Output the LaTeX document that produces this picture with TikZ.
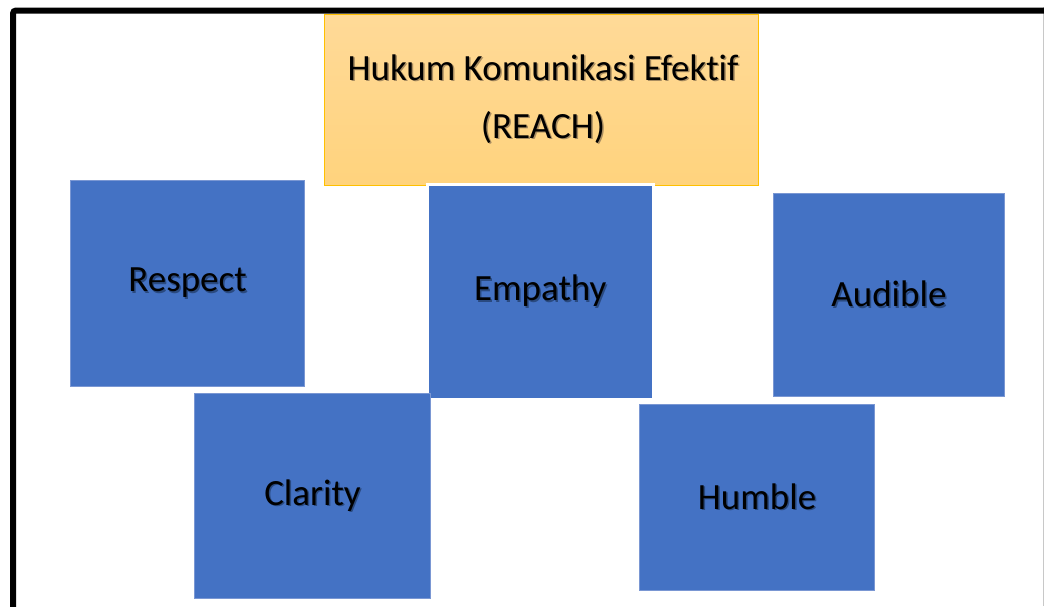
\documentclass[tikz,border=0pt]{standalone}
\usepackage{fontspec}
\setmainfont{Carlito}[Ligatures=NoCommon]
\usetikzlibrary{positioning}

\definecolor{boxblue}{HTML}{4472C4}
\definecolor{boxedge}{HTML}{7A97D3}
\definecolor{shblue}{HTML}{2A4A80}
\definecolor{titletop}{HTML}{FFDA98}
\definecolor{titlebot}{HTML}{FFD37D}
\definecolor{titleedge}{HTML}{FFC000}
\definecolor{shorange}{HTML}{A88C60}
\definecolor{pageedge}{HTML}{C8C8C8}

% text with a soft drop shadow to the lower right
\newcommand{\shadowed}[2]{\makebox[0pt][l]{\kern1.5pt\raisebox{-1.5pt}{\color{#1}#2}}#2}

\tikzset{
  card/.style={draw=boxedge, line width=1pt, fill=boxblue, anchor=north west,
    inner sep=0pt, font=\fontsize{37}{44}\selectfont, text=black},
  titlebox/.style={draw=titleedge, line width=1.2pt, top color=titletop,
    bottom color=titlebot, anchor=north west, inner sep=0pt},
  titletext/.style={anchor=base, inner sep=0pt, font=\fontsize{37}{44}\selectfont},
}

\begin{document}
\begin{tikzpicture}[x=1pt, y=-1pt]
  \useasboundingbox (0,0) rectangle (1044,606);

  % page edge and frame
  \draw[pageedge, line width=0.8pt] (1043,7) -- (1043,606);
  \draw[black, line width=6pt, rounded corners=3pt] (13,620) -- (13,10.5) -- (1050,10.5);

  % heading box
  \node[titlebox, minimum width=434pt, minimum height=171pt] (title) at (324,13.5) {};
  \node[titletext] (t1) at (543,80) {\shadowed{shorange}{Hukum Komunikasi Efektif}};
  \node[titletext] (t2) at (543,138) {\shadowed{shorange}{(REACH)}};

  % the five REACH cards
  \node[card, minimum width=234pt, minimum height=206pt] (respect) at (70,180) {\shadowed{shblue}{Respect}};
  \node[card, draw=white, line width=2.5pt, minimum width=226pt, minimum height=215pt] (empathy) at (426,183) {\shadowed{shblue}{Empathy}};
  \node[card, minimum width=231pt, minimum height=203pt] (audible) at (773,193) {\shadowed{shblue}{Audible}};
  \node[card, minimum width=236pt, minimum height=205pt] (clarity) at (194,393) {\shadowed{shblue}{Clarity}};
  \node[card, minimum width=235pt, minimum height=186pt] (humble) at (639,404) {\shadowed{shblue}{Humble}};
\end{tikzpicture}
\end{document}
